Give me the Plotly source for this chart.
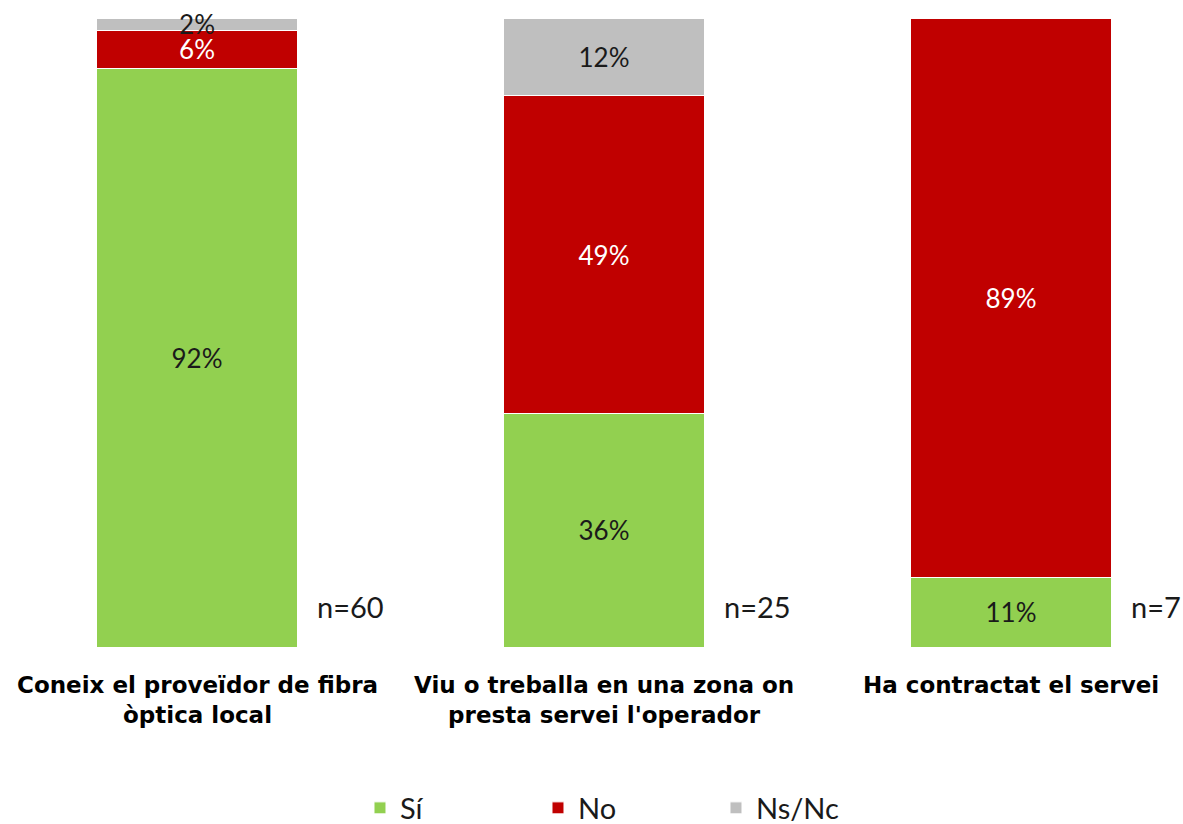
import plotly.graph_objects as go

# Survey questions (x categories) and sample sizes
categories = [
    "Coneix el proveïdor de fibra<br>òptica local",
    "Viu o treballa en una zona on<br>presta servei l'operador",
    "Ha contractat el servei",
]
sample_sizes = [60, 25, 7]

# Response shares (%), one list per answer
si_values = [92, 36, 11]
no_values = [6, 49, 89]
nsnc_values = [2, 12, 0]

series = [
    ("Sí", si_values, "#92D050", "#1a1a1a"),
    ("No", no_values, "#C00000", "#ffffff"),
    ("Ns/Nc", nsnc_values, "#BFBFBF", "#1a1a1a"),
]

NUM_FONT = "Lato"
x_idx = list(range(len(categories)))

fig = go.Figure()
for name, vals, color, txtcolor in series:
    fig.add_trace(go.Bar(
        name=name,
        x=x_idx,
        y=vals,
        width=0.496,
        marker=dict(color=color, line=dict(color="white", width=1)),
        text=[f"{v}%" if v > 0 else "" for v in vals],
        textposition="inside",
        insidetextanchor="middle",
        textangle=0,
        textfont=dict(family=NUM_FONT, size=26, color=txtcolor),
        cliponaxis=False,
        hoverinfo="skip",
    ))

# Category labels under each bar
for i, cat in enumerate(categories):
    fig.add_annotation(
        x=i, y=-0.037, xref="x", yref="paper",
        text=f"<b>{cat}</b>", showarrow=False,
        xanchor="center", yanchor="top", align="center",
        font=dict(family="DejaVu Sans", size=23, color="#000000"),
    )

# Sample size next to each bar
for i, n in enumerate(sample_sizes):
    fig.add_annotation(
        x=i + 0.29, y=6.4, xref="x", yref="y",
        text=f"n={n}", showarrow=False,
        xanchor="left", yanchor="middle",
        font=dict(family=NUM_FONT, size=29, color="#1a1a1a"),
    )

fig.update_layout(
    barmode="stack",
    barnorm="percent",
    width=1183, height=824,
    margin=dict(l=0, r=0, t=18, b=177, autoexpand=False),
    paper_bgcolor="white", plot_bgcolor="white",
    uniformtext=dict(minsize=26, mode="show"),
    showlegend=True,
    legend=dict(
        orientation="h", traceorder="normal",
        x=0.53, xanchor="center", y=-0.256, yanchor="middle",
        font=dict(family=NUM_FONT, size=29, color="#1a1a1a"),
        entrywidth=133, entrywidthmode="pixels",
        itemclick=False, itemdoubleclick=False,
    ),
    xaxis=dict(range=[-197 / 407, 2 + 172 / 407], showticklabels=False,
               showgrid=False, zeroline=False, showline=False, ticks=""),
    yaxis=dict(range=[0, 100], visible=False, showgrid=False, zeroline=False),
)

fig.write_html("out.html")
